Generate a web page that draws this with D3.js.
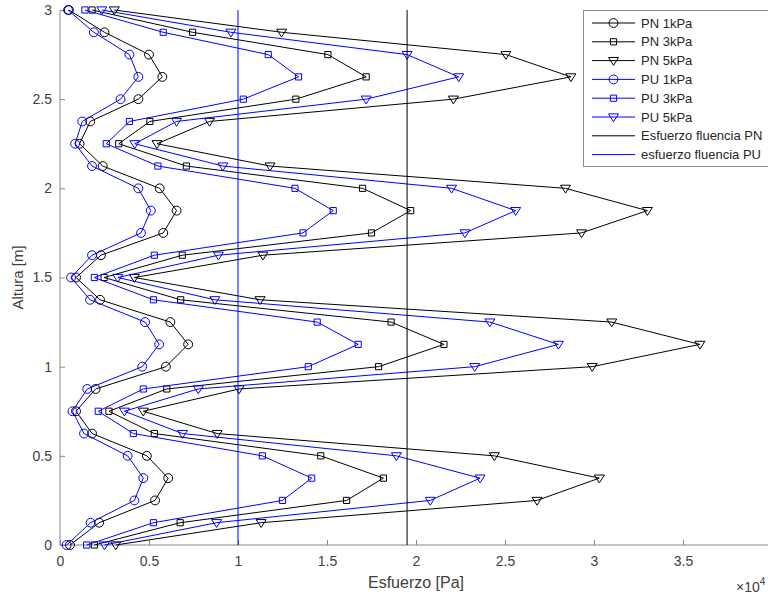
<!DOCTYPE html>
<html lang="en">
<head>
    <meta charset="UTF-8">
    <title>Esfuerzo vs Altura</title>
    <script src="https://cdnjs.cloudflare.com/ajax/libs/d3/7.8.2/d3.min.js"></script>
    <style>
        body{
            margin: 0;
            background: #fff;
        }
        svg{
            display: block;
            font-family: "Liberation Sans", Arial, sans-serif;
        }
    </style>
</head>
<body>
    <div class="container"></div>
    <script>
        // data (x values shown in units of 10^4 Pa)
        const heights = [0, 0.125, 0.25, 0.375, 0.5, 0.625, 0.75, 0.875, 1, 1.125, 1.25, 1.375, 1.5,
                         1.625, 1.75, 1.875, 2, 2.125, 2.25, 2.375, 2.5, 2.625, 2.75, 2.875, 3];

        const pn1 = [0.056, 0.22, 0.534, 0.608, 0.488, 0.18, 0.09, 0.20, 0.595, 0.72, 0.62, 0.225, 0.09,
                     0.23, 0.58, 0.655, 0.56, 0.24, 0.11, 0.17, 0.44, 0.575, 0.5, 0.25, 0.05];
        const pn3 = [0.193, 0.675, 1.61, 1.817, 1.465, 0.53, 0.275, 0.60, 1.79, 2.157, 1.86, 0.678, 0.248,
                     0.687, 1.75, 1.97, 1.70, 0.71, 0.33, 0.505, 1.325, 1.72, 1.505, 0.745, 0.18];
        const pn5 = [0.313, 1.13, 2.68, 3.03, 2.44, 0.883, 0.468, 1.006, 2.99, 3.595, 3.10, 1.124, 0.418,
                     1.14, 2.93, 3.30, 2.84, 1.18, 0.545, 0.84, 2.21, 2.87, 2.505, 1.245, 0.305];
        const pu1 = [0.037, 0.172, 0.418, 0.468, 0.38, 0.135, 0.07, 0.153, 0.462, 0.557, 0.478, 0.169, 0.062,
                     0.18, 0.455, 0.51, 0.44, 0.18, 0.085, 0.125, 0.34, 0.44, 0.39, 0.19, 0.045];
        const pu3 = [0.15, 0.525, 1.25, 1.414, 1.137, 0.412, 0.215, 0.468, 1.395, 1.675, 1.445, 0.525, 0.193,
                     0.53, 1.365, 1.535, 1.32, 0.55, 0.26, 0.39, 1.03, 1.34, 1.17, 0.58, 0.14];
        const pu5 = [0.25, 0.88, 2.08, 2.36, 1.89, 0.688, 0.362, 0.777, 2.33, 2.80, 2.415, 0.87, 0.325,
                     0.89, 2.275, 2.56, 2.20, 0.915, 0.42, 0.655, 1.72, 2.24, 1.95, 0.96, 0.235];

        const seriesNames = ['PN 1kPa', 'PN 3kPa', 'PN 5kPa', 'PU 1kPa', 'PU 3kPa', 'PU 5kPa'];
        const yieldNames = ['Esfuerzo fluencia PN', 'esfuerzo fluencia PU'];
        const yieldValues = [1.95, 1.0];

        const xTicks = [0, 0.5, 1, 1.5, 2, 2.5, 3, 3.5];
        const yTicks = [0, 0.5, 1, 1.5, 2, 2.5, 3];

        // layout
        let width = 768;
        let height = 596;
        let plotLeft = 60;
        let plotRight = 772;
        let plotTop = 10;
        let plotBottom = 545;

        const black = '#000000';
        const blue = '#0000ff';
        const axisColor = '#868686';
        const textColor = '#404040';

        const series = [
            {name: seriesNames[0], values: pn1, color: black, marker: 'circle'},
            {name: seriesNames[1], values: pn3, color: black, marker: 'square'},
            {name: seriesNames[2], values: pn5, color: black, marker: 'triangle'},
            {name: seriesNames[3], values: pu1, color: blue, marker: 'circle'},
            {name: seriesNames[4], values: pu3, color: blue, marker: 'square'},
            {name: seriesNames[5], values: pu5, color: blue, marker: 'triangle'}
        ];

        const svg = d3.select('.container').append('svg')
            .attr('width', width).attr('height', height);

        const xScale = d3.scaleLinear().domain([0, 4]).range([plotLeft, plotRight]);
        const yScale = d3.scaleLinear().domain([0, 3]).range([plotBottom, plotTop]);

        const symbolFor = (m) => {
            if (m === 'circle') return d3.symbol().type(d3.symbolCircle).size(62);
            if (m === 'square') return d3.symbol().type(d3.symbolSquare).size(38);
            return null;
        };

        const drawMarker = (g, m, x, y, color) => {
            if (m === 'triangle') {
                const s = 5;
                g.append('path')
                    .attr('d', `M${x - s},${y - s * 0.62}L${x + s},${y - s * 0.62}L${x},${y + s * 0.95}Z`)
                    .attr('fill', 'none').attr('stroke', color).attr('stroke-width', 1);
            } else {
                g.append('path')
                    .attr('d', symbolFor(m)())
                    .attr('transform', `translate(${x},${y})`)
                    .attr('fill', 'none').attr('stroke', color).attr('stroke-width', 1);
            }
        };

        // axes
        const xAxis = d3.axisBottom(xScale).tickValues(xTicks).tickSize(-5).tickPadding(11)
            .tickFormat(d3.format('~g'));
        const yAxis = d3.axisLeft(yScale).tickValues(yTicks).tickSize(-5).tickPadding(8)
            .tickFormat(d3.format('~g'));

        const gx = svg.append('g').attr('transform', `translate(0,${plotBottom})`).call(xAxis);
        const gy = svg.append('g').attr('transform', `translate(${plotLeft},0)`).call(yAxis);

        [gx, gy].forEach(g => {
            g.select('.domain').attr('stroke', axisColor);
            g.selectAll('.tick line').attr('stroke', axisColor);
            g.selectAll('.tick text').attr('fill', textColor).style('font-size', '14px');
        });
        gx.select('.domain').attr('d', `M${plotLeft},0H${plotRight}`);
        gy.select('.domain').attr('d', `M0,${plotTop}V${plotBottom}`);

        // data lines + markers
        const line = d3.line()
            .x(d => xScale(d[0]))
            .y(d => yScale(d[1]));

        series.forEach(s => {
            const pts = s.values.map((v, i) => [v, heights[i]]);
            const g = svg.append('g');
            g.append('path')
                .attr('d', line(pts))
                .attr('fill', 'none')
                .attr('stroke', s.color)
                .attr('stroke-width', 1);
            pts.forEach(p => drawMarker(g, s.marker, xScale(p[0]), yScale(p[1]), s.color));
        });

        // yield stress lines
        yieldValues.forEach((v, i) => {
            svg.append('line')
                .attr('x1', xScale(v)).attr('x2', xScale(v))
                .attr('y1', yScale(3)).attr('y2', yScale(0))
                .attr('stroke', i === 0 ? black : blue)
                .attr('stroke-width', 1);
        });

        // axis labels
        svg.append('text')
            .text('Esfuerzo [Pa]')
            .attr('x', (plotLeft + plotRight) / 2).attr('y', 588)
            .attr('text-anchor', 'middle')
            .attr('fill', textColor)
            .style('font-size', '16px');

        svg.append('text')
            .text('Altura [m]')
            .attr('transform', `translate(23,${(plotTop + plotBottom) / 2}) rotate(-90)`)
            .attr('text-anchor', 'middle')
            .attr('fill', textColor)
            .style('font-size', '15px');

        const expo = svg.append('text')
            .attr('x', 736).attr('y', 592)
            .attr('fill', textColor)
            .style('font-size', '14px');
        expo.append('tspan').text('\u00d710');
        expo.append('tspan').text('4').attr('dy', -7).style('font-size', '10px');

        // legend
        const legend = svg.append('g').attr('class', 'legend');
        legend.append('rect')
            .attr('x', 583.5).attr('y', 10.5)
            .attr('width', 200).attr('height', 156)
            .attr('fill', '#fff')
            .attr('stroke', '#8c8c8c');

        const legendItems = series.map(s => ({name: s.name, color: s.color, marker: s.marker}))
            .concat(yieldNames.map((n, i) => ({name: n, color: i === 0 ? black : blue, marker: null})));

        legendItems.forEach((it, i) => {
            const y = 23 + i * 18.8;
            const g = legend.append('g');
            g.append('line')
                .attr('x1', 592).attr('x2', 635)
                .attr('y1', y).attr('y2', y)
                .attr('stroke', it.color).attr('stroke-width', 1);
            if (it.marker) drawMarker(g, it.marker, 613.5, y, it.color);
            g.append('text')
                .text(it.name)
                .attr('x', 641).attr('y', y)
                .attr('dy', '0.35em')
                .attr('fill', '#262626')
                .style('font-size', '13px');
        });
    </script>
</body>
</html>
